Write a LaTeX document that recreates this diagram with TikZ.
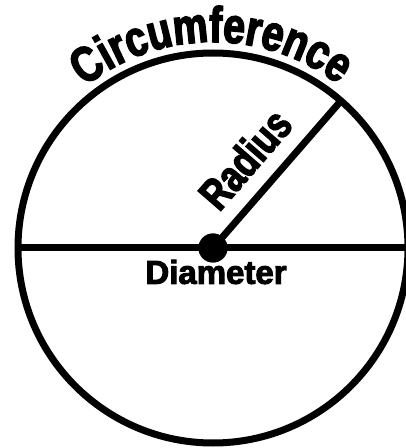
\documentclass[tikz,border=0pt]{standalone}
\usepackage{fontspec}
\newfontfamily\labfont[FakeBold=3]{Liberation Sans Bold}
\newfontfamily\circfont[FakeBold=3,FakeStretch=0.78]{Liberation Sans Bold}
\usetikzlibrary{calc,decorations.text}
\tikzset{
  stroke/.style={line width=7pt, black},
  lab/.style={font=\labfont\fontsize{33}{33}\selectfont, inner sep=0pt},
  dot/.style={circle, fill=black, minimum size=29pt, inner sep=0pt}
}
\begin{document}
\begin{tikzpicture}[x=1pt,y=1pt]
  \useasboundingbox (0,0) rectangle (406,448);
  \clip (0,0) rectangle (406,448);
  \node[dot] (c) at (213,200) {};
  \coordinate (r) at ($(c.center)+(49:195)$);
  \coordinate (dl) at ($(c.center)+(-195,0)$);
  \coordinate (dr) at ($(c.center)+(195,0)$);
  \draw[stroke] (c.center) circle[radius=195];
  \draw[stroke] (dl) -- (dr);
  \draw[stroke] (c.center) -- (r);
  \node[dot] at (c.center) {};
  \node[lab] (diam) at (216,176) {Diameter};
  \node[lab, font=\circfont\fontsize{44}{44}\selectfont, rotate=49] (rad) at (245,289) {Radius};
  \path[decorate, decoration={text along path, text align=center,
        text={|\circfont\fontsize{50}{50}\selectfont|Circumference}}]
    ($(c.center)+(131:206)$) arc[start angle=131, end angle=50, radius=206];
\end{tikzpicture}
\end{document}
